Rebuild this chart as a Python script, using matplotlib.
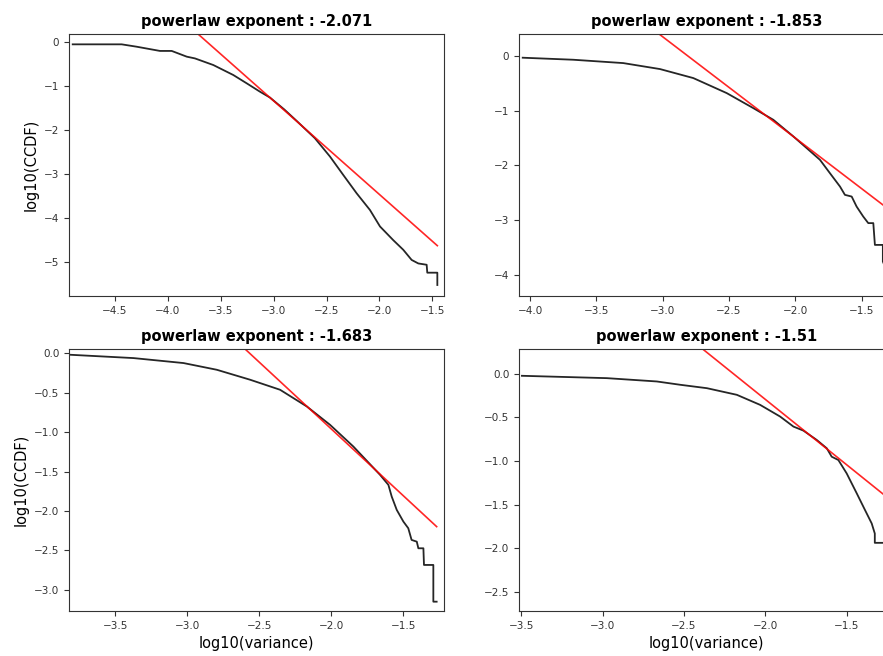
import numpy as np
import matplotlib
matplotlib.use("Agg")
import matplotlib.pyplot as plt

plt.rcParams.update({
    "font.family": "DejaVu Sans",
    "xtick.labelsize": 7.5,
    "ytick.labelsize": 7.5,
    "axes.labelsize": 10.5,
    "axes.titlesize": 10.5,
    "axes.titleweight": "bold",
})

# -----------------------------
#  data
# -----------------------------
exponents = [-2.071, -1.853, -1.683, -1.51]

# two points on each red fit line (x, y)
fit_pts = [
    [(-3.224, -0.87), (-1.453, -4.636)],
    [(-3.02, 0.383), (-1.34, -2.717)],
    [(-2.356, -0.36), (-1.269, -2.198)],
    [(-2.38, 0.276), (-1.276, -1.378)],
]

# panel 1 (top left)
x1 = [-4.900, -4.437, -4.295, -4.075, -3.964, -3.822, -3.744, -3.571, -3.382,
      -3.255, -3.130, -3.035, -2.900, -2.783, -2.610, -2.468, -2.342, -2.216,
      -2.090, -1.995, -1.870, -1.775, -1.696, -1.633, -1.554, -1.548, -1.453,
      -1.453]
y1 = [-0.06, -0.06, -0.114, -0.21, -0.21, -0.34, -0.38, -0.53, -0.757,
      -0.946, -1.136, -1.27, -1.54, -1.80, -2.195, -2.61, -3.03, -3.445,
      -3.825, -4.20, -4.51, -4.73, -4.96, -5.04, -5.07, -5.25, -5.25, -5.53]

# panel 2 (top right)
x2 = [-4.055, -3.674, -3.297, -3.020, -2.769, -2.517, -2.317, -2.166, -2.015,
      -1.914, -1.814, -1.739, -1.663, -1.626, -1.575, -1.538, -1.488, -1.450,
      -1.412, -1.400, -1.340, -1.340, -1.300]
y2 = [-0.036, -0.073, -0.134, -0.243, -0.407, -0.681, -0.954, -1.167, -1.470,
      -1.684, -1.897, -2.140, -2.384, -2.535, -2.566, -2.748, -2.930, -3.050,
      -3.050, -3.447, -3.447, -3.750, -3.980]

# panel 3 (bottom left)
x3 = [-3.812, -3.373, -3.026, -2.795, -2.564, -2.356, -2.170, -2.009, -1.847,
      -1.662, -1.604, -1.581, -1.546, -1.500, -1.466, -1.443, -1.407, -1.396,
      -1.361, -1.357, -1.292, -1.292, -1.269]
y3 = [-0.022, -0.064, -0.127, -0.212, -0.338, -0.465, -0.677, -0.909, -1.184,
      -1.542, -1.669, -1.817, -1.986, -2.134, -2.218, -2.366, -2.388, -2.472,
      -2.472, -2.683, -2.683, -3.148, -3.148]

# panel 4 (bottom right)
x4 = [-3.496, -2.974, -2.667, -2.523, -2.359, -2.175, -2.032, -1.909, -1.827,
      -1.766, -1.684, -1.622, -1.592, -1.551, -1.500, -1.438, -1.387, -1.346,
      -1.327, -1.327, -1.250]
y4 = [-0.023, -0.050, -0.088, -0.126, -0.165, -0.241, -0.356, -0.490, -0.605,
      -0.651, -0.758, -0.854, -0.950, -0.988, -1.141, -1.370, -1.562, -1.715,
      -1.830, -1.937, -1.937]

xs = [x1, x2, x3, x4]
ys = [y1, y2, y3, y4]
xlims = [(-4.935, -1.39), (-4.083, -1.256), (-3.821, -1.218), (-3.514, -1.209)]
ylims = [(-5.78, 0.175), (-4.378, 0.396), (-3.266, 0.051), (-2.718, 0.284)]
yticks = [[0, -1, -2, -3, -4, -5], [0, -1, -2, -3, -4],
          [0.0, -0.5, -1.0, -1.5, -2.0, -2.5, -3.0],
          [0.0, -0.5, -1.0, -1.5, -2.0, -2.5]]

# -----------------------------
#  Plot
# -----------------------------
fig = plt.figure(figsize=(8.83, 6.56), dpi=100)

W, H = 883, 656
boxes = [(69, 34, 375, 262), (519, 34, 375, 262),
         (69, 349, 375, 262), (519, 349, 375, 262)]

for i, (l, t, w, h) in enumerate(boxes):
    ax = fig.add_axes([l / W, 1 - (t + h) / H, w / W, h / H])
    x = np.array(xs[i])
    y = np.array(ys[i])
    ax.plot(x, y, color="black", lw=1.3, alpha=0.85)

    (xa, ya), (xb, yb) = fit_pts[i]
    slope = (yb - ya) / (xb - xa)
    xr = np.array([x[0], x[-1]])
    ax.plot(xr, ya + slope * (xr - xa), color="red", lw=1.2, alpha=0.85)

    ax.set_xlim(*xlims[i])
    ax.set_ylim(*ylims[i])
    ax.set_yticks(yticks[i])
    ax.set_title(f"powerlaw exponent : {exponents[i]}")
    if i % 2 == 0:
        ax.set_ylabel("log10(CCDF)")
    if i >= 2:
        ax.set_xlabel("log10(variance)")
    for s in ax.spines.values():
        s.set_color("#333333")
    ax.tick_params(colors="#333333")

fig.savefig("out.png", dpi=100)
